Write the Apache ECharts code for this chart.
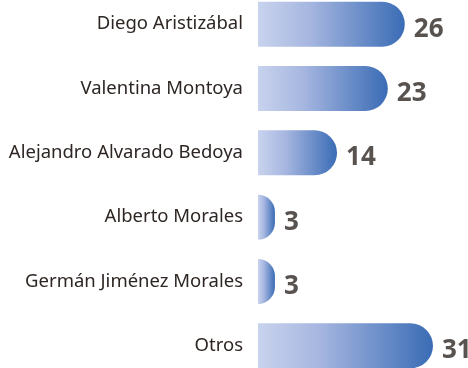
<!DOCTYPE html>
<html>
<head>
<meta charset="utf-8">
<script src="https://cdn.jsdelivr.net/npm/echarts@6/dist/echarts.min.js"></script>
<style>
  html, body { margin: 0; padding: 0; background: #ffffff; }
  #chart { width: 468px; height: 368px; }
</style>
</head>
<body>
<div id="chart"></div>
<script>
// Candidates and their counts
const categories = [
  'Diego Aristizábal',
  'Valentina Montoya',
  'Alejandro Alvarado Bedoya',
  'Alberto Morales',
  'Germán Jiménez Morales',
  'Otros'
];
const values = [26, 23, 14, 3, 3, 31];

const chart = echarts.init(document.getElementById('chart'), null, { renderer: 'canvas' });

const barFill = new echarts.graphic.LinearGradient(0, 0, 1, 0, [
  { offset: 0, color: '#c8d3ed' },
  { offset: 0.35, color: '#a6b6e0' },
  { offset: 1, color: '#3a6cb5' }
]);

chart.setOption({
  animation: false,
  backgroundColor: '#ffffff',
  grid: {
    left: 258, width: 175, top: -8, height: 386,
    containLabel: false,
    outerBoundsMode: 'none'
  },
  xAxis: {
    type: 'value',
    min: 0,
    max: 31,
    show: false
  },
  yAxis: {
    type: 'category',
    inverse: true,
    data: categories,
    axisLine: { show: false },
    axisTick: { show: false },
    splitLine: { show: false },
    axisLabel: {
      margin: 15,
      fontFamily: 'Noto Sans',
      fontSize: 18.5,
      color: '#2d2623',
      align: 'right',
      padding: [0, 0, 5, 0]
    }
  },
  series: [{
    type: 'bar',
    data: values,
    barWidth: 45,
    itemStyle: {
      color: barFill,
      borderRadius: [0, 22.5, 22.5, 0]
    },
    label: {
      show: true,
      position: 'right',
      distance: 9,
      offset: [0, 5],
      fontFamily: 'Noto Sans',
      fontWeight: 'bold',
      fontSize: 26,
      color: '#595350'
    }
  }]
});
</script>
</body>
</html>
